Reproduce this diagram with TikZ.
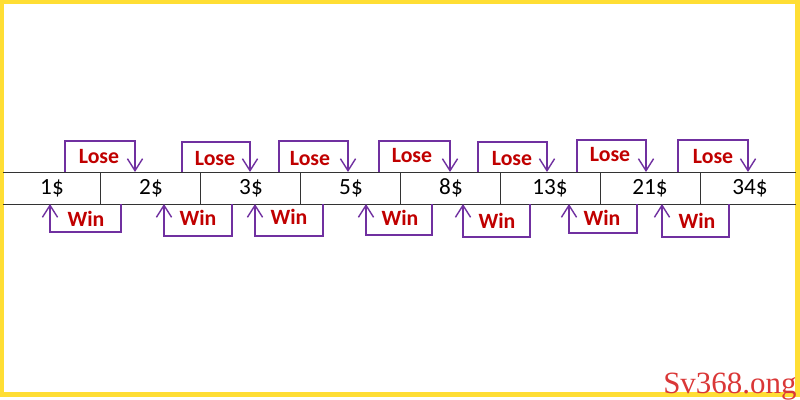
\documentclass[tikz,border=0pt]{standalone}
\usepackage{fontspec}
\setmainfont{Carlito}
\newfontfamily\markfont{Liberation Serif}
\usetikzlibrary{arrows.meta}
\definecolor{framey}{RGB}{255,222,52}
\definecolor{arrowp}{RGB}{112,48,160}
\definecolor{labelr}{RGB}{192,0,0}
\definecolor{markr}{RGB}{218,55,55}

\begin{document}
\begin{tikzpicture}[x=0.025cm,y=-0.025cm]
\tikzstyle{cell}=[inner sep=0pt, font=\fontsize{16.5}{18}\selectfont]
\tikzstyle{grid}=[draw=black!80, line width=0.6pt]
\tikzstyle{connect}=[-{Straight Barb[length=3mm,width=3.8mm]}, draw=arrowp, line width=1pt]
\tikzstyle{word}=[inner sep=0pt, text=labelr, font=\fontsize{15.5}{17}\selectfont\bfseries]
\useasboundingbox (0,0) rectangle (800,400);
  % frame
  \draw[framey, line width=1.1mm] (2,2) rectangle (797.5,394.5);
  % table
  \draw[grid] (3,172) -- (796,172);
  \draw[grid] (3,204) -- (796,204);
  \foreach \x in {100,200,...,700}
    \draw[grid] (\x,172) -- (\x,204);
  \node[cell] (c1) at (52,188) {1\$};
  \node[cell] (c2) at (151,188) {2\$};
  \node[cell] (c3) at (251,188) {3\$};
  \node[cell] (c5) at (351,188) {5\$};
  \node[cell] (c8) at (451,188) {8\$};
  \node[cell] (c13) at (550,188) {13\$};
  \node[cell] (c21) at (650,188) {21\$};
  \node[cell] (c34) at (750,188) {34\$};
  % lose brackets
  \coordinate (ls1) at (65,172);  \coordinate (lt1) at (135,172);
  \coordinate (ls2) at (182,172); \coordinate (lt2) at (250,172);
  \coordinate (ls3) at (279,172); \coordinate (lt3) at (348,172);
  \coordinate (ls4) at (379,172); \coordinate (lt4) at (450,172);
  \coordinate (ls5) at (478,172); \coordinate (lt5) at (547,172);
  \coordinate (ls6) at (577,172); \coordinate (lt6) at (646,172);
  \coordinate (ls7) at (678,172); \coordinate (lt7) at (748,172);
  \draw[connect] (ls1) -- ++(0,-31) -| (lt1);
  \draw[connect] (ls2) -- ++(0,-30) -| (lt2);
  \draw[connect] (ls3) -- ++(0,-31) -| (lt3);
  \draw[connect] (ls4) -- ++(0,-31) -| (lt4);
  \draw[connect] (ls5) -- ++(0,-30) -| (lt5);
  \draw[connect] (ls6) -- ++(0,-32) -| (lt6);
  \draw[connect] (ls7) -- ++(0,-32) -| (lt7);
  \node[word] (lose1) at (99,157) {Lose};
  \node[word] (lose2) at (215,159) {Lose};
  \node[word] (lose3) at (310,159) {Lose};
  \node[word] (lose4) at (412,156) {Lose};
  \node[word] (lose5) at (512,159) {Lose};
  \node[word] (lose6) at (610,155) {Lose};
  \node[word] (lose7) at (713,157) {Lose};
  % win brackets
  \coordinate (wt1) at (50,204);  \coordinate (ws1) at (121,204);
  \coordinate (wt2) at (164,204); \coordinate (ws2) at (232,204);
  \coordinate (wt3) at (255,204); \coordinate (ws3) at (323,204);
  \coordinate (wt4) at (366,204); \coordinate (ws4) at (432,204);
  \coordinate (wt5) at (463,204); \coordinate (ws5) at (530,204);
  \coordinate (wt6) at (569,204); \coordinate (ws6) at (637,204);
  \coordinate (wt7) at (662,204); \coordinate (ws7) at (729,204);
  \draw[connect] (ws1) -- ++(0,28) -| (wt1);
  \draw[connect] (ws2) -- ++(0,32) -| (wt2);
  \draw[connect] (ws3) -- ++(0,32) -| (wt3);
  \draw[connect] (ws4) -- ++(0,31) -| (wt4);
  \draw[connect] (ws5) -- ++(0,33) -| (wt5);
  \draw[connect] (ws6) -- ++(0,29) -| (wt6);
  \draw[connect] (ws7) -- ++(0,33) -| (wt7);
  \node[word] (win1) at (86,219) {Win};
  \node[word] (win2) at (198,218) {Win};
  \node[word] (win3) at (289,217) {Win};
  \node[word] (win4) at (400,218) {Win};
  \node[word] (win5) at (497,221) {Win};
  \node[word] (win6) at (602,218) {Win};
  \node[word] (win7) at (697,221) {Win};
  % watermark
  \node[inner sep=0pt, anchor=base west, text=markr, font=\markfont\fontsize{22}{24}\selectfont] (mark) at (663,393) {Sv368.ong};
\end{tikzpicture}
\end{document}
